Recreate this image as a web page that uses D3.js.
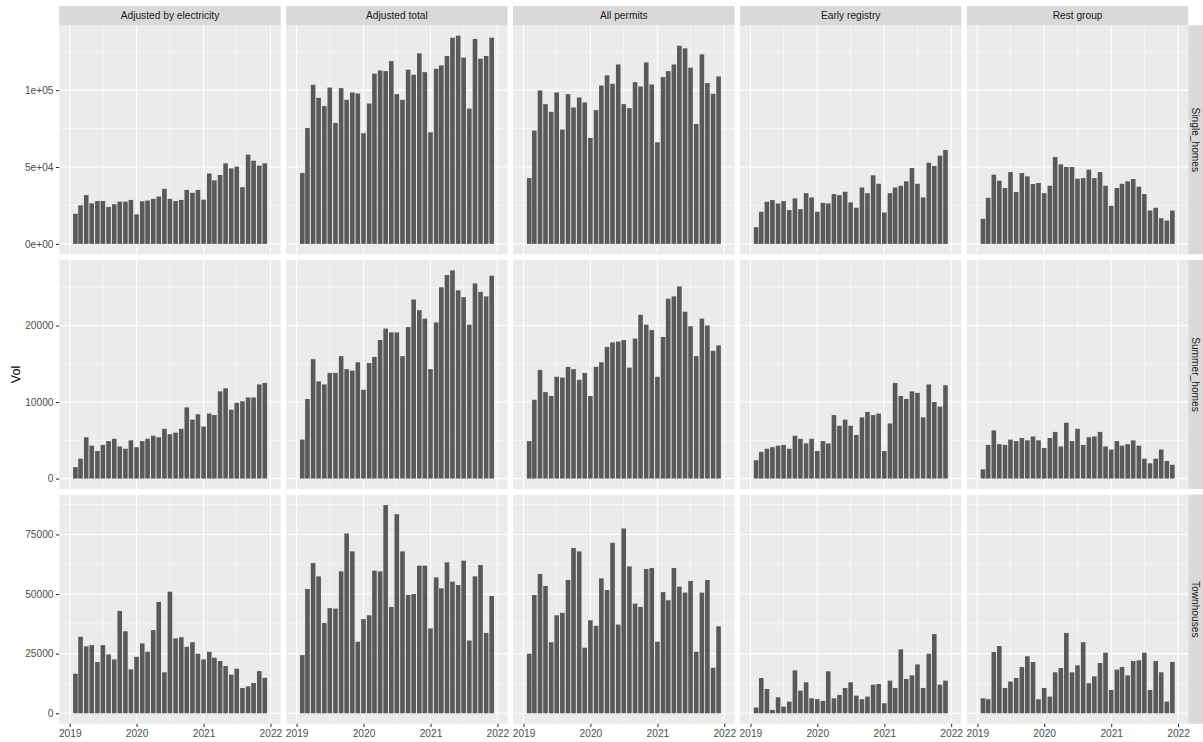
<!DOCTYPE html>
<html>
<head>
<meta charset="utf-8">
<script src="https://cdn.jsdelivr.net/npm/d3@7"></script>
<style>
  body { margin: 0; background: #fff; }
  text { font-family: "Liberation Sans", Arial, sans-serif; }
</style>
</head>
<body>
<svg id="chart" width="1203" height="742"></svg>
<script>
// facet labels
const groups = ["Adjusted by electricity", "Adjusted total", "All permits", "Early registry", "Rest group"];
const types = ["Single_homes", "Summer_homes", "Townhouses"];

// monthly bars, Feb 2019 .. Dec 2021
const months = d3.utcMonth.range(new Date(Date.UTC(2019, 1, 1)), new Date(Date.UTC(2022, 0, 2)));
const yearTicks = [2019, 2020, 2021, 2022];

// y breaks and labels per row
const yBreaks = [[0, 50000, 100000], [0, 10000, 20000], [0, 25000, 50000, 75000]];
const yLabels = [["0e+00", "5e+04", "1e+05"], ["0", "10000", "20000"], ["0", "25000", "50000", "75000"]];

// Single_homes
const singleElec = [19600,25100,31700,26400,27900,27900,24000,25800,27500,27500,28600,19200,27700,28200,29300,30800,35800,29300,27900,28600,35100,33200,35100,28800,45800,41300,44800,52400,49100,50200,36900,58100,54100,50900,52400];
const singleTotal = [46100,75400,103500,95000,89600,101700,78700,101300,93700,98500,97800,72000,91300,110700,112800,112400,118900,97400,93700,113300,110000,123900,111700,72600,113900,116100,122200,134100,135400,121100,88000,133300,120400,122200,134100];
const singlePermits = [42800,73700,99800,90900,85900,98500,74400,97400,88700,95200,92000,68900,87000,103000,109600,104100,116700,90900,88300,105200,102400,118000,103700,66100,108500,112400,116700,128900,127200,114600,78000,123300,104600,97600,108900];
const singleEarly = [10900,20900,27400,28500,26300,27800,22000,29600,22600,33000,30200,20900,26700,26300,32400,31700,33900,27000,23500,36700,33000,44600,39100,20400,33000,36700,37800,40700,49300,39100,30200,52800,50700,57400,61100];
const singleRest = [16300,30000,45000,41100,36300,46700,33700,46100,43900,38900,39600,33000,37800,56500,51700,50000,50000,42400,42800,48300,42800,46700,37800,24800,36300,39100,40700,42200,37200,32400,21700,23500,16700,15200,21700];

// Summer_homes
const summerElec = [1500,2600,5400,4300,3600,4400,4900,5200,4200,3900,5000,4100,4900,5200,5600,5400,6500,5800,6000,6500,9300,7700,8400,6800,8500,8300,11400,11800,9000,9900,10100,10600,10600,12300,12500];
const summerTotal = [5100,10400,15600,12700,12300,13800,13800,16000,14300,14100,15200,11600,15100,15900,18100,19600,19100,19100,16000,19800,23400,22000,20900,14300,20400,25000,26600,27200,24600,23700,20100,25500,24400,23800,26500];
const summerPermits = [4900,10300,14200,11300,10800,13300,13200,14600,14300,12900,13800,10800,14600,15200,17200,17800,17900,18100,14500,18300,21400,20100,19400,13300,18500,23500,23800,25100,21800,19900,16000,20900,20000,16700,17400];
const summerEarly = [2400,3500,3900,4100,4300,4400,3900,5600,5200,4600,5200,3600,4900,4600,8300,6900,7700,6900,5700,8000,8700,8300,8500,3600,7200,12500,10800,10400,11400,11200,8000,12300,10000,9400,12200];
const summerRest = [1200,4400,6300,4500,4400,5100,4900,5300,5000,5500,5000,4000,5300,6100,4200,7300,4900,6500,4400,5400,5500,6100,4200,3800,4900,4300,4500,5000,4300,2600,2000,2600,3800,2300,1800];

// Townhouses
const townElec = [16600,32100,28100,28600,21500,28600,24700,22600,42900,34400,18400,23700,29300,25800,34900,46700,17200,51000,31400,31900,27900,29800,25000,22600,25800,23300,21900,19800,16200,18700,10600,11300,12700,17700,14900];
const townTotal = [24400,52100,63000,57400,37900,44100,43900,59500,75400,67900,30000,39500,41100,59800,59500,87300,44600,83500,67900,49600,50000,61900,61900,35600,57000,52400,63300,55200,53800,64000,30500,57400,62200,33700,49200];
const townPermits = [25000,49600,58400,53400,29800,41100,42100,55900,69300,67900,27500,39000,36700,56600,51700,71500,37200,77500,61600,46000,44600,60500,60900,30000,50800,47400,60900,53100,50600,55500,25800,50600,55900,19100,36500];
const townEarly = [2400,14800,10200,1400,6700,2800,4900,18000,9500,13000,6300,5900,5200,17600,6300,7700,10600,13000,7400,5900,7000,12000,12300,4200,13700,10600,26800,14400,15900,20500,10600,25000,33200,12000,13700];
const townRest = [6300,5900,25700,28200,10600,13300,14800,19400,23900,21500,5900,10600,7000,17200,19000,33700,17200,20100,29800,12600,15500,21100,25400,9800,18300,19400,15900,21900,22200,25400,9800,21900,17200,4900,21500];

const table = [
  [singleElec, singleTotal, singlePermits, singleEarly, singleRest],
  [summerElec, summerTotal, summerPermits, summerEarly, summerRest],
  [townElec, townTotal, townPermits, townEarly, townRest]
];

// layout
const panelLeft = 59.3, panelW = 221.4, gapX = 5.5;
const panelTop = 25.3, panelH = 229, gapY = 5.7;
const stripH = 19.3;
const DAY = 864e5;

const svg = d3.select('#chart');

const x = d3.scaleUtc()
  .domain([new Date(Date.UTC(2018, 10, 5)), new Date(Date.UTC(2022, 1, 26))])
  .range([0, panelW]);
const halfBar = 12.6 * DAY;
const yearDates = yearTicks.map(y => new Date(Date.UTC(y, 0, 1)));
const xMinor = yearTicks.slice(0, -1).map(y => new Date(Date.UTC(y, 6, 1)));

types.forEach((type, r) => {
  const rowMax = d3.max(table[r], s => d3.max(s));
  const y = d3.scaleLinear()
    .domain([-0.05 * rowMax, 1.05 * rowMax])
    .range([panelH, 0]);
  const step = yBreaks[r][1] - yBreaks[r][0];
  const yMinor = d3.range(step / 2, y.domain()[1], step);

  groups.forEach((group, c) => {
    const px = panelLeft + c * (panelW + gapX);
    const py = panelTop + r * (panelH + gapY);
    const g = svg.append('g').attr('transform', `translate(${px},${py})`);

    g.append('rect').attr('width', panelW).attr('height', panelH).attr('fill', '#EBEBEB');

    // minor grid
    g.selectAll('.ymin').data(yMinor).enter().append('line')
      .attr('x1', 0).attr('x2', panelW)
      .attr('y1', d => y(d)).attr('y2', d => y(d))
      .attr('stroke', '#fff').attr('stroke-width', 0.55);
    g.selectAll('.xmin').data(xMinor).enter().append('line')
      .attr('y1', 0).attr('y2', panelH)
      .attr('x1', d => x(d)).attr('x2', d => x(d))
      .attr('stroke', '#fff').attr('stroke-width', 0.55);
    // major grid
    g.selectAll('.ymaj').data(yBreaks[r]).enter().append('line')
      .attr('x1', 0).attr('x2', panelW)
      .attr('y1', d => y(d)).attr('y2', d => y(d))
      .attr('stroke', '#fff').attr('stroke-width', 1.1);
    g.selectAll('.xmaj').data(yearDates).enter().append('line')
      .attr('y1', 0).attr('y2', panelH)
      .attr('x1', d => x(d)).attr('x2', d => x(d))
      .attr('stroke', '#fff').attr('stroke-width', 1.1);

    // bars
    g.selectAll('.bar').data(table[r][c]).enter().append('rect')
      .attr('x', (d, i) => x(new Date(+months[i] - halfBar)))
      .attr('width', (d, i) => x(new Date(+months[i] + halfBar)) - x(new Date(+months[i] - halfBar)))
      .attr('y', d => y(d))
      .attr('height', d => y(0) - y(d))
      .attr('fill', '#595959');

    // top strips
    if (r === 0) {
      svg.append('rect').attr('x', px).attr('y', panelTop - stripH)
        .attr('width', panelW).attr('height', stripH).attr('fill', '#D9D9D9');
      svg.append('text').attr('x', px + panelW / 2).attr('y', panelTop - stripH / 2)
        .attr('dy', '0.35em').attr('text-anchor', 'middle')
        .attr('font-size', '10.2px').attr('fill', '#1A1A1A').text(group);
    }

    // y axis on first column
    if (c === 0) {
      const ax = g.append('g').call(d3.axisLeft(y)
        .tickValues(yBreaks[r])
        .tickFormat((d, i) => yLabels[r][i])
        .tickSizeOuter(0).tickSizeInner(3.3).tickPadding(2.5));
      ax.select('.domain').remove();
      ax.selectAll('line').attr('stroke', '#333333').attr('stroke-width', 1.07);
      ax.selectAll('text').attr('fill', '#4D4D4D').attr('font-size', '10.2px')
        .attr('font-family', '"Liberation Sans", Arial, sans-serif');
    }

    // x axis on bottom row
    if (r === types.length - 1) {
      const ax = g.append('g').attr('transform', `translate(0,${panelH})`)
        .call(d3.axisBottom(x)
          .tickValues(yearDates)
          .tickFormat(d3.utcFormat('%Y'))
          .tickSizeOuter(0).tickSizeInner(3.3).tickPadding(2.5));
      ax.select('.domain').remove();
      ax.selectAll('line').attr('stroke', '#333333').attr('stroke-width', 1.07);
      ax.selectAll('text').attr('fill', '#4D4D4D').attr('font-size', '10.2px')
        .attr('font-family', '"Liberation Sans", Arial, sans-serif');
    }
  });

  // right strip
  const py = panelTop + r * (panelH + gapY);
  const sx = panelLeft + groups.length * panelW + (groups.length - 1) * gapX;
  svg.append('rect').attr('x', sx).attr('y', py)
    .attr('width', 1203 - sx).attr('height', panelH).attr('fill', '#D9D9D9');
  svg.append('text')
    .attr('transform', `translate(${sx + 7.3},${py + panelH / 2}) rotate(90)`)
    .attr('dy', '0.35em').attr('text-anchor', 'middle')
    .attr('font-size', '10.2px').attr('fill', '#1A1A1A').text(type);
});

// y axis title
svg.append('text')
  .attr('transform', `translate(16,${panelTop + (3 * panelH + 2 * gapY) / 2}) rotate(-90)`)
  .attr('dy', '0.35em').attr('text-anchor', 'middle')
  .attr('font-size', '12.5px').attr('fill', '#000').text('Vol');
</script>
</body>
</html>
